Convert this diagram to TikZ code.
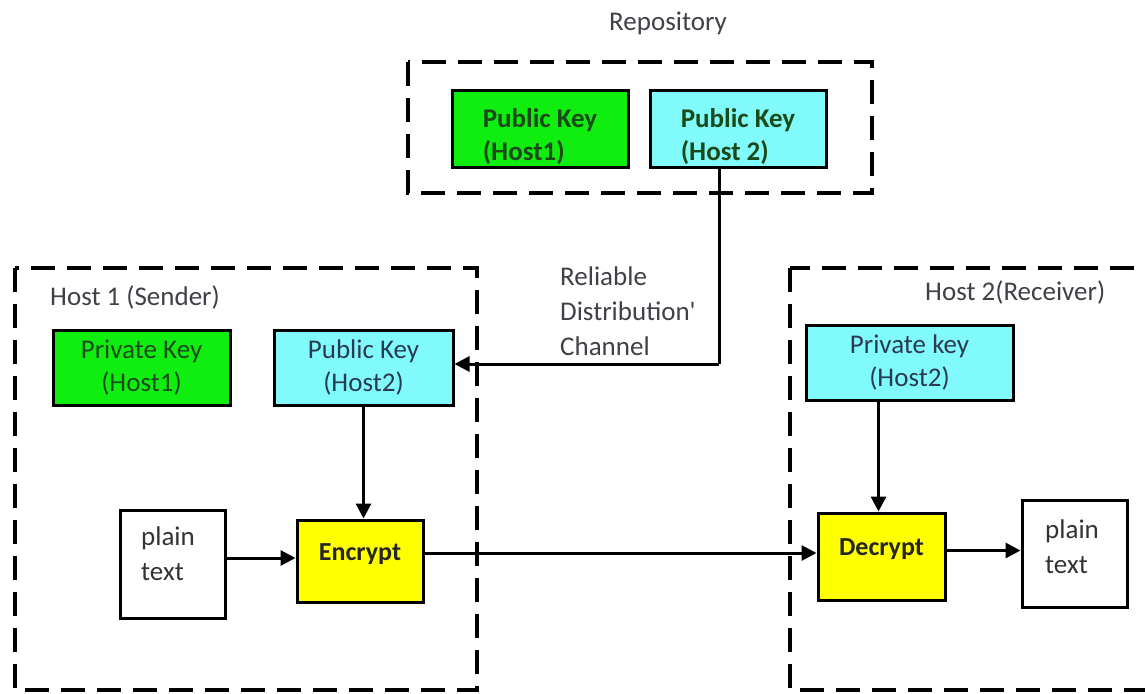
\documentclass[tikz,border=0pt]{standalone}
\usepackage{fontspec}
\setmainfont{Carlito}
\usetikzlibrary{arrows.meta,calc}
\definecolor{kgreen}{HTML}{10EE10}
\definecolor{kcyan}{HTML}{80FAFA}
\definecolor{kyellow}{HTML}{FFFF00}
\definecolor{tgreen}{HTML}{1A4A1A}
\definecolor{tgray}{HTML}{404048}
\definecolor{tnavy}{HTML}{2A3A50}
\tikzset{
  keybox/.style={draw=black, line width=3pt, inner sep=0pt, align=center, font=\fontsize{27}{33}\selectfont},
  greenbox/.style={keybox, fill=kgreen, text=tgreen},
  cyanbox/.style={keybox, fill=kcyan},
  yellowbox/.style={keybox, fill=kyellow, font=\fontsize{26}{33}\selectfont\bfseries, text=black!85},
  whitebox/.style={draw=black, line width=3pt, fill=white, inner sep=0pt},
  group/.style={draw=black, line width=4pt, dash pattern=on 24pt off 12pt},
  lbl/.style={font=\fontsize{27}{35}\selectfont, text=tgray, inner sep=0pt},
  conn/.style={line width=3pt, -{Triangle[length=15pt,width=15pt]}},
  plainconn/.style={line width=3pt}
}
\begin{document}
\begin{tikzpicture}[x=1pt,y=-1pt]
\clip (0,0) rectangle (1145,693);
\fill[white] (0,0) rectangle (1145,693);

% group boxes
\draw[group] (408,62) rectangle (872,193);
\draw[group] (15,268) rectangle (477,690);
\draw[group] (790,268) rectangle (1170,690);

% labels
\node[lbl] (repo) at (668,23) {Repository};
\node[lbl, anchor=west] (h1lbl) at (50,297) {Host 1 (Sender)};
\node[lbl, anchor=west] (h2lbl) at (925,292) {Host 2(Receiver)};
\node[lbl, anchor=north west, align=left] (chan) at (560,267) {Reliable\\Distribution\textquotesingle\\Channel};

% repository keys
\node[greenbox, font=\fontsize{27}{33}\selectfont\bfseries, minimum width=176pt, minimum height=77pt] (rpk1) at (540,128.5) {\raisebox{-9pt}[\height][\depth]{\begin{tabular}{@{}l@{}}Public Key\\(Host1)\end{tabular}}};
\node[cyanbox, text=tgreen, font=\fontsize{27}{33}\selectfont\bfseries, minimum width=176pt, minimum height=77pt] (rpk2) at (738,128.5) {\raisebox{-9pt}[\height][\depth]{\begin{tabular}{@{}l@{}}Public Key\\(Host 2)\end{tabular}}};

% host 1
\node[greenbox, minimum width=177pt, minimum height=75pt] (prk1) at (141.5,367.5) {Private Key\\(Host1)};
\node[cyanbox, text=tnavy, minimum width=179pt, minimum height=75pt] (hpk2) at (363.5,367.5) {Public Key\\(Host2)};
\node[whitebox, minimum width=105pt, minimum height=108pt] (pt1) at (172.5,564) {};
\node[lbl, anchor=north west, align=left, text=black!80] (pt1t) at (141,527) {plain\\text};
\node[yellowbox, minimum width=126pt, minimum height=82pt] (enc) at (360,561) {\raisebox{7pt}[\height][\depth]{Encrypt}};

% host 2
\node[cyanbox, text=tnavy, minimum width=207pt, minimum height=75pt] (prk2) at (909.5,362.5) {Private key\\(Host2)};
\node[yellowbox, minimum width=127pt, minimum height=87pt] (dec) at (881.5,556.5) {\raisebox{7pt}[\height][\depth]{Decrypt}};
\node[whitebox, minimum width=105pt, minimum height=107pt] (pt2) at (1074.5,553.5) {};
\node[lbl, anchor=north west, align=left, text=black!80] (pt2t) at (1045,520) {plain\\text};

% connectors
\coordinate (bend) at (719,364);
\draw[plainconn] (rpk2.south -| bend) -- (bend);
\draw[conn] (bend) -- (bend -| hpk2.east);
\draw[conn] (hpk2.south) -- (hpk2.south |- enc.north);
\draw[conn] ($(pt1.east)+(0,-6)$) -- ($(pt1.east -| enc.west)+(0,-6)$);
\draw[conn] ($(enc.east)+(0,-8)$) -- ($(enc.east -| dec.west)+(0,-8)$);
\draw[conn] ($(prk2.south)+(-31,0)$) -- ($(prk2.south |- dec.north)+(-31,0)$);
\draw[conn] ($(dec.east)+(0,-6)$) -- ($(dec.east -| pt2.west)+(0,-6)$);
\end{tikzpicture}
\end{document}
